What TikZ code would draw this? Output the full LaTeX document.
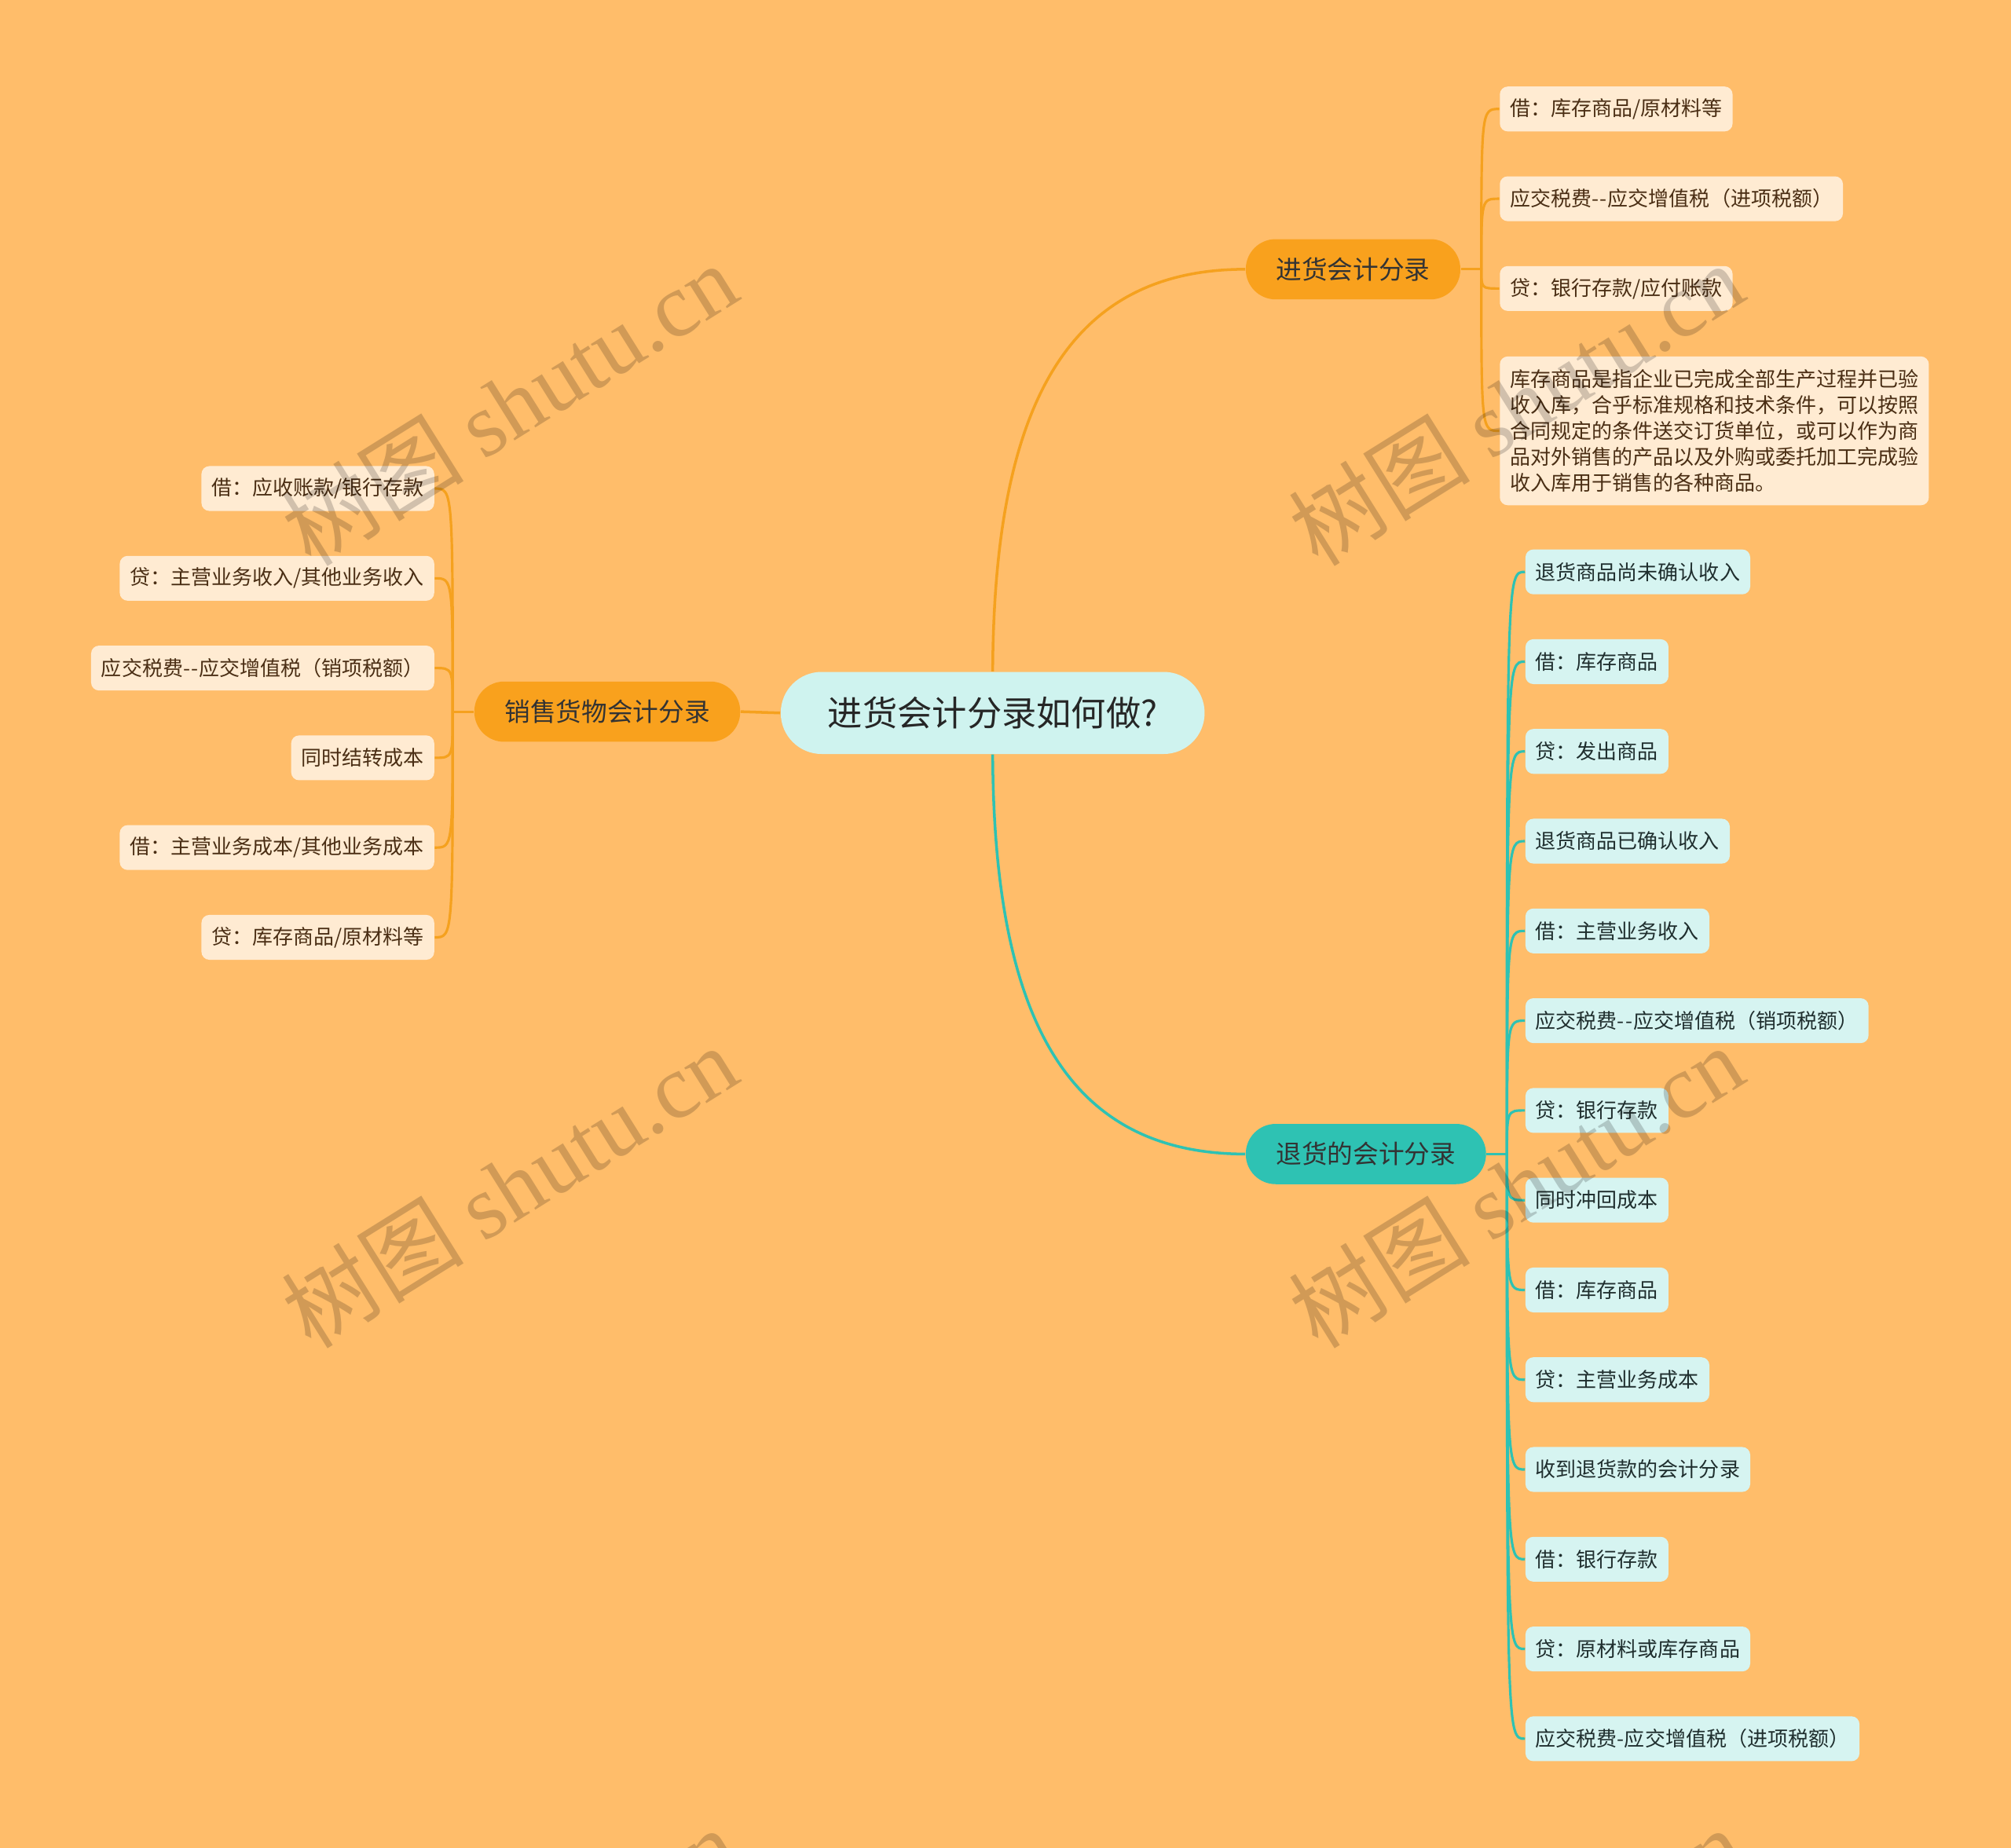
\documentclass[tikz,border=0pt]{standalone}
\usepackage{fontspec}
\setmainfont{Noto Sans CJK SC}
\newfontfamily\wmlatin{Liberation Serif}
\definecolor{bg}{HTML}{FFBD6A}
\definecolor{rootfill}{HTML}{CFF3EF}
\definecolor{orfill}{HTML}{F9A11D}
\definecolor{tealfill}{HTML}{2EC2B3}
\definecolor{orline}{HTML}{F5A11E}
\definecolor{tealline}{HTML}{2EC2B3}
\definecolor{crfill}{HTML}{FFEBD2}
\definecolor{ltfill}{HTML}{D6F4F1}
\definecolor{brtext}{HTML}{4A2E14}
\definecolor{dktext}{HTML}{1F2E2E}
\tikzset{
  rootbox/.style={fill=rootfill, rounded corners=0.52cm, minimum height=1.045cm, inner xsep=0.6cm, inner ysep=0pt, font=\fontsize{12.6}{15}\selectfont, text=black!85},
  lvlor/.style={fill=orfill, rounded corners=0.38cm, minimum height=0.767cm, inner xsep=0.385cm, inner ysep=0pt, font=\fontsize{9.3}{11}\selectfont, text=black!80},
  lvlte/.style={lvlor, fill=tealfill},
  leafor/.style={fill=crfill, rounded corners=0.1cm, minimum height=0.571cm, inner xsep=0.13cm, inner ysep=0pt, font=\fontsize{7.4}{9}\selectfont, text=brtext},
  leafte/.style={leafor, fill=ltfill, text=dktext},
  mainor/.style={draw=orline, line width=1pt},
  mainte/.style={draw=tealline, line width=1pt},
  subor/.style={draw=orline, line width=0.9pt},
  subte/.style={draw=tealline, line width=0.9pt},
  wmark/.style={rotate=32, text=black, text opacity=0.18, inner sep=0pt}
}
\begin{document}
\begin{tikzpicture}[x=0.016327cm, y=-0.016327cm]
\useasboundingbox (0,0) rectangle (1568,1441);
\clip (0,0) rectangle (1568,1441);
\fill[bg] (0,0) rectangle (1568,1441);

% root and main branches
\node[rootbox] (root) at (774,556) {进货会计分录如何做?};
\node[lvlor] (jh) at (1055,210) {进货会计分录};
\node[lvlor] (xs) at (473.5,555) {销售货物会计分录};
\node[lvlte] (th) at (1065,900) {退货的会计分录};

% 进货 children
\node[leafor, anchor=west] (j1) at (1169,85) {借：库存商品/原材料等};
\node[leafor, anchor=west] (j2) at (1169,155) {应交税费-\kern0.05em-\kern0.05em应交增值税（进项税额）};
\node[leafor, anchor=west] (j3) at (1169,225) {贷：银行存款/应付账款};
\node[leafor, anchor=west, align=left, minimum height=1.894cm, inner ysep=0.1cm, font=\fontsize{7.4}{9.4}\selectfont] (j4) at (1169,336) {库存商品是指企业已完成全部生产过程并已验\\收入库，合乎标准规格和技术条件，可以按照\\合同规定的条件送交订货单位，或可以作为商\\品对外销售的产品以及外购或委托加工完成验\\收入库用于销售的各种商品。};

% 销售 children
\node[leafor, anchor=east] (s1) at (339,381) {借：应收账款/银行存款};
\node[leafor, anchor=east] (s2) at (339,451) {贷：主营业务收入/其他业务收入};
\node[leafor, anchor=east] (s3) at (339,521) {应交税费-\kern0.05em-\kern0.05em应交增值税（销项税额）};
\node[leafor, anchor=east] (s4) at (339,591) {同时结转成本};
\node[leafor, anchor=east] (s5) at (339,661) {借：主营业务成本/其他业务成本};
\node[leafor, anchor=east] (s6) at (339,731) {贷：库存商品/原材料等};

% 退货 children
\node[leafte, anchor=west] (t1) at (1189,446) {退货商品尚未确认收入};
\node[leafte, anchor=west] (t2) at (1189,516) {借：库存商品};
\node[leafte, anchor=west] (t3) at (1189,586) {贷：发出商品};
\node[leafte, anchor=west] (t4) at (1189,656) {退货商品已确认收入};
\node[leafte, anchor=west] (t5) at (1189,726) {借：主营业务收入};
\node[leafte, anchor=west] (t6) at (1189,796) {应交税费-\kern0.05em-\kern0.05em应交增值税（销项税额）};
\node[leafte, anchor=west] (t7) at (1189,866) {贷：银行存款};
\node[leafte, anchor=west] (t8) at (1189,936) {同时冲回成本};
\node[leafte, anchor=west] (t9) at (1189,1006) {借：库存商品};
\node[leafte, anchor=west] (t10) at (1189,1076) {贷：主营业务成本};
\node[leafte, anchor=west] (t11) at (1189,1146) {收到退货款的会计分录};
\node[leafte, anchor=west] (t12) at (1189,1216) {借：银行存款};
\node[leafte, anchor=west] (t13) at (1189,1286) {贷：原材料或库存商品};
\node[leafte, anchor=west] (t14) at (1189,1356) {应交税费-应交增值税（进项税额）};

% main connectors
\draw[mainor] (root.north) .. controls (775,320) and (830,210) .. (jh.west);
\draw[mainte] (root.south) .. controls (775,791) and (830,900) .. (th.west);
\draw[mainor] (root.west) -- (xs.east);

% junctions
\coordinate (jhj) at (1155,210);
\coordinate (xsj) at (353,555);
\coordinate (thj) at (1175,900);
\draw[subor] (jh.east) -- (jhj);
\draw[subor] (xs.west) -- (xsj);
\draw[subte] (th.east) -- (thj);

\foreach \c in {j1,j2,j3,j4}
  \draw[subor] (jhj) .. controls (jhj |- \c.west) and (jhj |- \c.west) .. (\c.west);
\foreach \c in {s1,s2,s3,s4,s5,s6}
  \draw[subor] (xsj) .. controls (xsj |- \c.east) and (xsj |- \c.east) .. (\c.east);
\foreach \c in {t1,t2,t3,t4,t5,t6,t7,t8,t9,t10,t11,t12,t13,t14}
  \draw[subte] (thj) .. controls (thj |- \c.west) and (thj |- \c.west) .. (\c.west);

% watermarks
\foreach \wx/\wy [count=\i] in {397/315, 1182/315, 397/925, 1182/925, 397/1535, 1182/1535}
  \node[wmark] (wm\i) at (\wx,\wy) {\fontsize{33}{33}\selectfont 树图 {\wmlatin shutu.cn}};
\end{tikzpicture}
\end{document}
